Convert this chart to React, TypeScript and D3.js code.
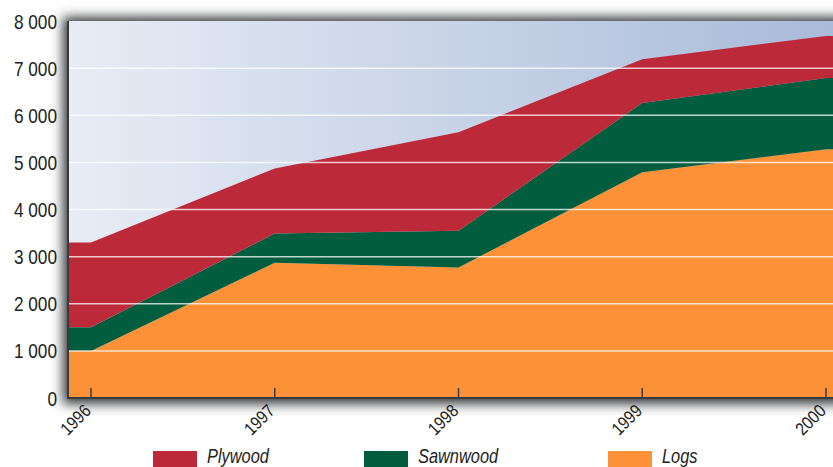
import React, { useEffect, useRef } from "react";
import * as d3 from "d3";

const years = [1996, 1997, 1998, 1999, 2000];
const logs = [1000, 2870, 2770, 4790, 5280];
const sawnwood = [500, 620, 780, 1470, 1510];
const plywood = [1800, 1380, 2090, 930, 890];
const yTicks = [0, 1000, 2000, 3000, 4000, 5000, 6000, 7000, 8000];
const seriesNames = ["Logs", "Sawnwood", "Plywood"];
const seriesColors = ["#fd9138", "#005e3e", "#bc2a3a"];
const legendOrder = ["Plywood", "Sawnwood", "Logs"];

const fmt = (v: number) => d3.format(",")(v).replace(/,/g, " ");

export default function App() {
  const svgRef = useRef<SVGSVGElement>(null);

  useEffect(() => {
    const width = 833;
    const height = 467;
    const plot = { left: 68, top: 21, right: 860, bottom: 398 };
    const font = "'Liberation Sans', Arial, sans-serif";
    const squeeze = 0.82;

    const svg = d3.select(svgRef.current).attr("width", width).attr("height", height);
    svg.selectAll("*").remove();

    const defs = svg.append("defs");
    const bg = defs.append("linearGradient").attr("id", "bgGrad").attr("x1", "0").attr("x2", "1").attr("y1", "0").attr("y2", "0");
    bg.append("stop").attr("offset", "0").attr("stop-color", "#e8ecf5");
    bg.append("stop").attr("offset", "1").attr("stop-color", "#a6b9d8");
    const blur = defs.append("filter").attr("id", "shadow").attr("x", "-10%").attr("y", "-10%").attr("width", "120%").attr("height", "120%");
    blur.append("feGaussianBlur").attr("stdDeviation", 6);
    defs.append("clipPath").attr("id", "plotClip").append("rect")
      .attr("x", plot.left).attr("y", plot.top)
      .attr("width", plot.right - plot.left).attr("height", plot.bottom - plot.top);

    const x = d3.scaleLinear().domain([1996, 2000]).range([91, 826]);
    const y = d3.scaleLinear().domain([0, 8000]).range([plot.bottom, plot.top]);

    // shadow + background
    svg.append("rect")
      .attr("x", plot.left - 5).attr("y", plot.top - 4)
      .attr("width", plot.right - plot.left + 10).attr("height", plot.bottom - plot.top + 10)
      .attr("fill", "#35383b").attr("filter", "url(#shadow)");
    svg.append("rect")
      .attr("x", plot.left).attr("y", plot.top)
      .attr("width", plot.right - plot.left).attr("height", plot.bottom - plot.top)
      .attr("fill", "url(#bgGrad)");

    const rows = years.map((yr, i) => ({ year: yr, Logs: logs[i], Sawnwood: sawnwood[i], Plywood: plywood[i] }));
    const stacked = d3.stack<any>().keys(seriesNames)(rows);

    const area = d3.area<any>()
      .x((d) => d.px)
      .y0((d) => y(d[0]))
      .y1((d) => y(d[1]));

    const g = svg.append("g").attr("clip-path", "url(#plotClip)");
    stacked.forEach((s, i) => {
      const pts = s.map((d: any) => Object.assign([d[0], d[1]], { px: x(d.data.year) }));
      const first = Object.assign([pts[0][0], pts[0][1]], { px: plot.left });
      const last = Object.assign([pts[pts.length - 1][0], pts[pts.length - 1][1]], { px: plot.right });
      g.append("path")
        .datum([first, ...pts, last])
        .attr("fill", seriesColors[i])
        .attr("d", area);
    });

    // gridlines over areas
    g.selectAll("line.grid")
      .data(yTicks.filter((t) => t > 0 && t < 8000))
      .enter().append("line")
      .attr("x1", plot.left).attr("x2", plot.right)
      .attr("y1", (d) => y(d)).attr("y2", (d) => y(d))
      .attr("stroke", "#ffffff").attr("stroke-opacity", 0.75).attr("stroke-width", 1.5);

    // axes lines
    svg.append("line")
      .attr("x1", plot.left).attr("x2", plot.left)
      .attr("y1", plot.top).attr("y2", plot.bottom + 1)
      .attr("stroke", "#3a3a3a").attr("stroke-width", 2);
    svg.append("line")
      .attr("x1", plot.left - 1).attr("x2", plot.right)
      .attr("y1", plot.bottom).attr("y2", plot.bottom)
      .attr("stroke", "#3a3a3a").attr("stroke-width", 2);

    // x ticks
    svg.selectAll("line.xtick")
      .data(years).enter().append("line")
      .attr("x1", (d) => x(d)).attr("x2", (d) => x(d))
      .attr("y1", plot.bottom - 10).attr("y2", plot.bottom)
      .attr("stroke", "#3a3a3a").attr("stroke-width", 1.5);

    svg.selectAll("text.xlab")
      .data(years).enter().append("text")
      .attr("transform", (d) => `translate(${x(d) + 1},${plot.bottom + 14}) rotate(-45) scale(0.86,1)`)
      .attr("text-anchor", "end")
      .attr("font-family", font)
      .attr("font-size", 18)
      .attr("fill", "#222")
      .text((d) => d);

    // y labels
    svg.selectAll("text.ylab")
      .data(yTicks).enter().append("text")
      .attr("transform", (d) => `translate(57,${y(d) + 7.5}) scale(${squeeze},1)`)
      .attr("text-anchor", "end")
      .attr("font-family", font)
      .attr("font-size", 21)
      .attr("fill", "#222")
      .text((d) => fmt(d));

    // legend
    const legendX = [153, 364, 608];
    legendOrder.forEach((name, i) => {
      const c = seriesColors[seriesNames.indexOf(name)];
      svg.append("rect")
        .attr("x", legendX[i]).attr("y", 451)
        .attr("width", 44).attr("height", 18)
        .attr("fill", c);
      svg.append("text")
        .attr("transform", `translate(${legendX[i] + 54},463) scale(${squeeze},1)`)
        .attr("font-family", font)
        .attr("font-style", "italic")
        .attr("font-size", 20)
        .attr("fill", "#222")
        .text(name);
    });
  }, []);

  return <svg ref={svgRef} style={{ position: "absolute", left: 0, top: 0 }}></svg>;
}
